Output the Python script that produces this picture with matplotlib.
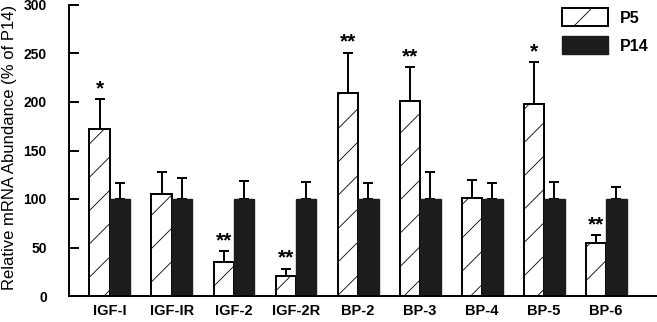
import numpy as np
import matplotlib
matplotlib.use('Agg')
import matplotlib.pyplot as plt
from matplotlib.patches import Patch

plt.rcParams.update({
    'font.family': 'Liberation Sans',
    'hatch.linewidth': 0.6,
    'hatch.color': '#555555',
})

genes = ['IGF-I', 'IGF-IR', 'IGF-2', 'IGF-2R', 'BP-2', 'BP-3', 'BP-4', 'BP-5', 'BP-6']
p5 = [172, 105, 35, 21, 209, 201, 101, 198, 55]
p5_err = [31, 23, 11, 7, 42, 35, 19, 43, 8]
p14 = [100, 100, 100, 100, 100, 100, 100, 100, 100]
p14_err = [16, 22, 19, 18, 17, 28, 17, 18, 12]
stars = ['*', '', '**', '**', '**', '**', '', '*', '**']

fig = plt.figure(figsize=(6.57, 3.22), dpi=100)
ax = fig.add_axes([69/657, 1 - 296/322, 588/657, 291/322])

x = np.arange(len(genes))
w = 0.33
ekw = dict(fmt='none', ecolor='black', elinewidth=1.4, capsize=3.5, capthick=1.4, zorder=1)
ax.errorbar(x - w/2, p5, yerr=[np.zeros(len(p5)), p5_err], **ekw)
ax.errorbar(x + w/2, p14, yerr=[np.zeros(len(p14)), p14_err], **ekw)
ax.bar(x - w/2, p5, w, color='white', edgecolor='black', linewidth=1.4,
       hatch='/', zorder=2, label='P5')
ax.bar(x + w/2, p14, w, color='#1c1c1c', edgecolor='#1c1c1c', linewidth=1.0,
       zorder=2, label='P14')

for xi, v, e, s in zip(x, p5, p5_err, stars):
    if s:
        ax.text(xi - w/2, v + e + 1, s, ha='center', va='bottom',
                fontsize=15, fontweight='bold')

ax.set_xlim(-0.66, 8.82)
ax.set_ylim(0, 300)
ax.set_yticks([0, 50, 100, 150, 200, 250, 300])
ax.set_xticks(x)
ax.set_xticklabels(genes, fontsize=10.5, fontweight='bold')
ax.tick_params(axis='x', length=0, pad=6)
ax.tick_params(axis='y', direction='in', length=7, width=1.4, labelsize=10, pad=16)
for lbl in ax.get_yticklabels():
    lbl.set_fontweight('bold')
ax.spines['top'].set_visible(False)
ax.spines['right'].set_visible(False)
ax.spines['left'].set_linewidth(1.4)
ax.spines['bottom'].set_linewidth(1.4)
ax.set_ylabel('Relative mRNA Abundance (% of P14)', fontsize=12)
ax.yaxis.set_label_coords(-0.088, 0.51)

handles = [Patch(facecolor='white', edgecolor='black', hatch='/', linewidth=1.4),
           Patch(facecolor='#1c1c1c', edgecolor='#1c1c1c')]
ax.legend(handles, ['P5', 'P14'], loc='upper left',
          bbox_to_anchor=(562/657, 1 - 8/322), bbox_transform=fig.transFigure,
          frameon=False, borderpad=0, borderaxespad=0, handlelength=2.9,
          handleheight=1.4, labelspacing=0.6, handletextpad=0.75,
          prop={'weight': 'bold', 'size': 11.5})

fig.savefig('out.png', dpi=100)
